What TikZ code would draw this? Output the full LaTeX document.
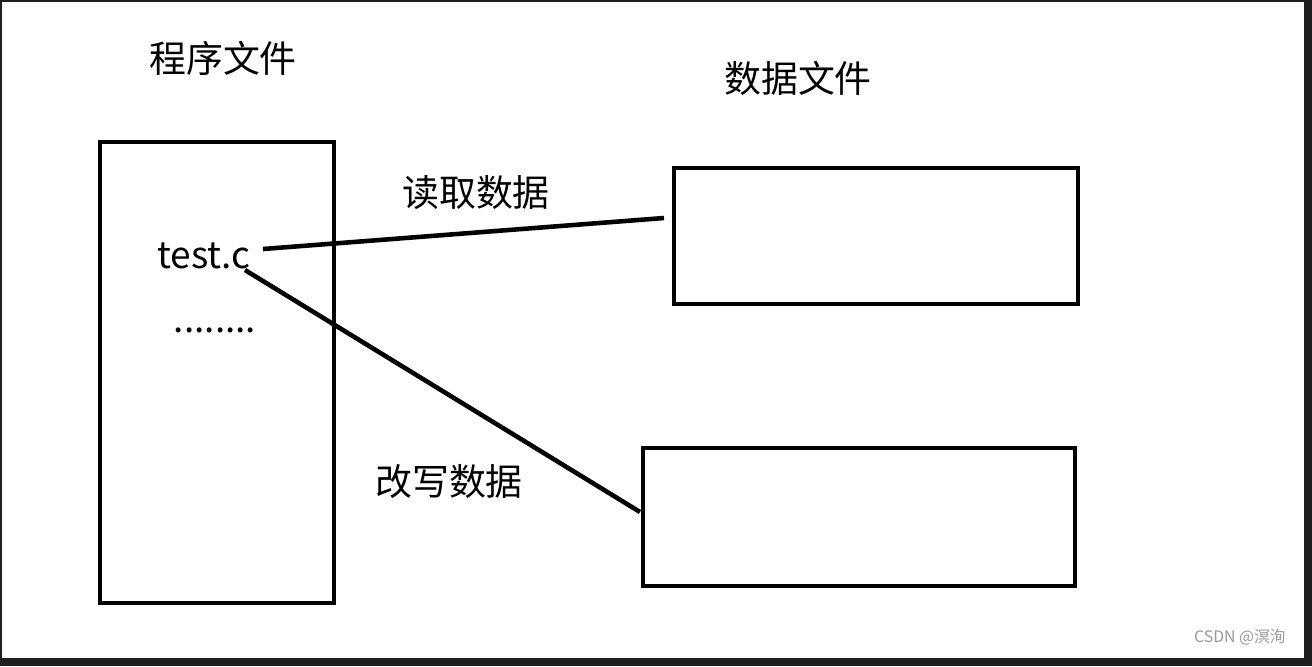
\documentclass[tikz,border=0pt]{standalone}
\usepackage{fontspec}
\setmainfont{Noto Sans CJK SC}
\begin{document}
\begin{tikzpicture}[x=0.01cm,y=-0.01cm,
  box/.style={draw=black,line width=1.2pt},
  con/.style={draw=black,line width=1.3pt},
  lab/.style={font=\fontsize{10.5pt}{12pt}\selectfont,inner sep=0pt}]
\fill[black!88] (0,0) rectangle (1312,666);
\fill[white] (2,2) rectangle (1304,658);
\useasboundingbox (0,0) rectangle (1312,666);
\node[box,minimum width=234*0.01cm,minimum height=461*0.01cm,anchor=north west] (prog) at (98,140) {};
\node[box,minimum width=404*0.01cm,minimum height=136*0.01cm,anchor=north west] (d1) at (672,166) {};
\node[box,minimum width=432*0.01cm,minimum height=138*0.01cm,anchor=north west] (d2) at (641,446) {};
\node[lab] (t1) at (223,58) {程序文件};
\node[lab] (t2) at (798,78) {数据文件};
\node[lab] (r) at (476,193) {读取数据};
\node[lab] (w) at (449,482) {改写数据};
\node[lab] (tc) at (204,256) {test.c};
\node[lab] (dots) at (215,330) {........};
\coordinate (a1) at (263,249);
\coordinate (b1) at (664,218);
\coordinate (a2) at (245,270);
\coordinate (b2) at (640,512);
\draw[con] (a1) -- (b1);
\draw[con] (a2) -- (b2);
\node[font=\fontsize{4.5pt}{5pt}\selectfont,text=black!40,inner sep=0pt] (wm) at (1240,637) {CSDN @溟洵};
\end{tikzpicture}
\end{document}
